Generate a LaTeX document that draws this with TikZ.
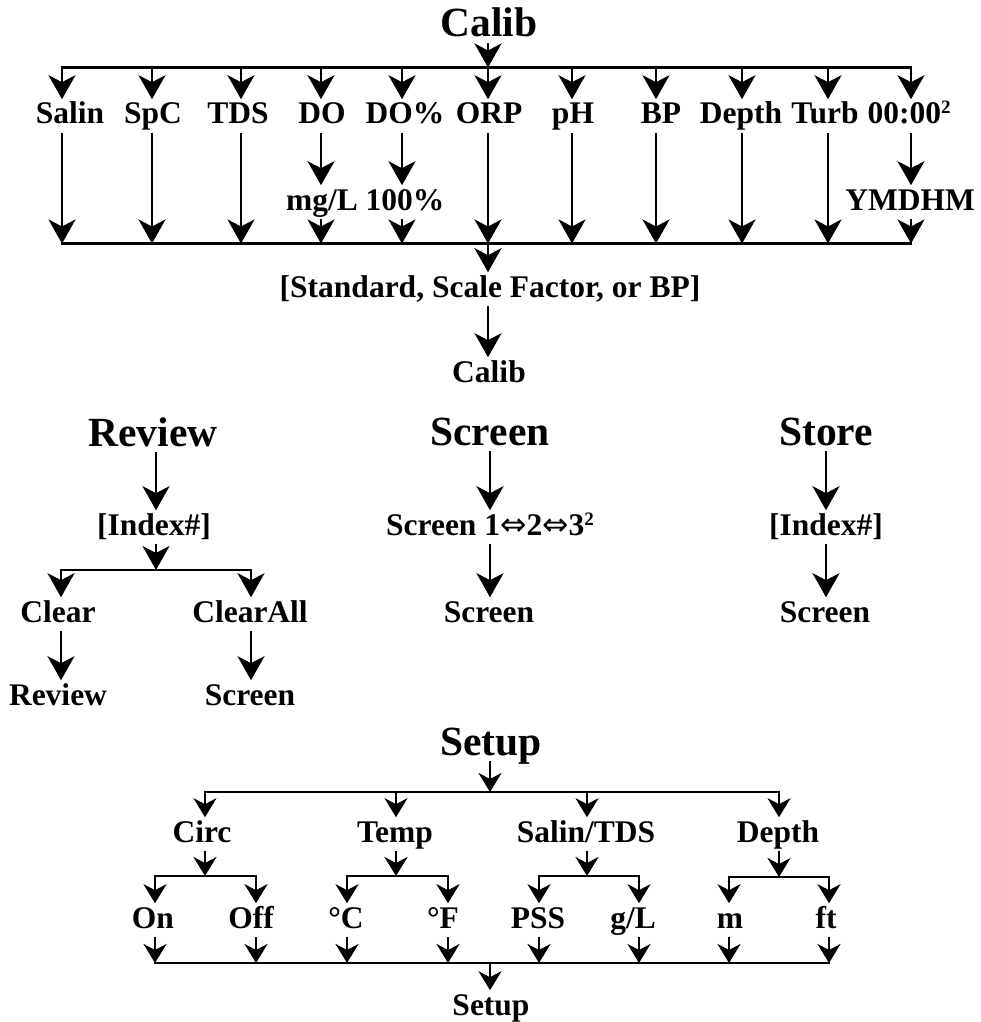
\documentclass[tikz,border=0pt]{standalone}
\usepackage{fontspec}
\setmainfont{Liberation Serif}
\newfontfamily\arrowfont{DejaVu Sans}
\usetikzlibrary{arrows.meta}
\newcommand{\dbl}{{\arrowfont\mdseries ⇔}}
\newcommand{\supertwo}{\raisebox{10pt}{\fontsize{19}{19}\selectfont 2}}
\tikzset{
  bigtip/.tip={Stealth[length=24pt 0 0,width=27pt 0 0,inset=7pt 0 0]},
  smalltip/.tip={Stealth[length=19pt 0 0,width=23pt 0 0,inset=6pt 0 0]}
}
\begin{document}
\begin{tikzpicture}[x=1pt,y=-1pt,line width=2.6pt,
  ttl/.style={font=\bfseries\fontsize{41.5}{44}\selectfont,anchor=base,inner sep=1pt,text height=29pt,text depth=4pt},
  lbl/.style={font=\bfseries\fontsize{31.5}{34}\selectfont,anchor=base,inner sep=1.5pt,text height=22pt,text depth=6pt},
  bus/.style={line cap=rect},
  arr/.style={-bigtip},
  sarr/.style={-smalltip}]
  \useasboundingbox (0,0) rectangle (981,1022);

  % Calib
  \node[ttl] (calib) at (489,37) {Calib};
  \coordinate (t1) at (62,67.5);
  \coordinate (t2) at (152,67.5);
  \coordinate (t3) at (241,67.5);
  \coordinate (t4) at (321,67.5);
  \coordinate (t5) at (402,67.5);
  \coordinate (t6) at (488,67.5);
  \coordinate (t7) at (572,67.5);
  \coordinate (t8) at (656,67.5);
  \coordinate (t9) at (742,67.5);
  \coordinate (t10) at (828,67.5);
  \coordinate (t11) at (911,67.5);
  \draw[bus] (t1) -- (t11);
  \draw[arr] (calib.south -| t6) -- (t6);

  \node[lbl] (salin) at (70,124) {Salin};
  \node[lbl] (spc) at (153,124) {SpC};
  \node[lbl] (tds) at (238,124) {TDS};
  \node[lbl] (do) at (322,124) {DO};
  \node[lbl] (dopc) at (405,124) {DO\%};
  \node[lbl] (orp) at (489,124) {ORP};
  \node[lbl] (ph) at (573,124) {pH};
  \node[lbl] (bp) at (661,124) {BP};
  \node[lbl] (depth) at (741,124) {Depth};
  \node[lbl] (turb) at (825,124) {Turb};
  \node[lbl] (clock) at (909,124) {00:00\supertwo};
  \node[lbl] (mgl) at (322,210) {mg/L};
  \node[lbl] (full) at (405,210) {100\%};
  \node[lbl] (ymdhm) at (910,210) {YMDHM};

  \draw[arr] (t1) -- (t1 |- salin.north);
  \draw[arr] (t2) -- (t2 |- spc.north);
  \draw[arr] (t3) -- (t3 |- tds.north);
  \draw[arr] (t4) -- (t4 |- do.north);
  \draw[arr] (t5) -- (t5 |- dopc.north);
  \draw[arr] (t6) -- (t6 |- orp.north);
  \draw[arr] (t7) -- (t7 |- ph.north);
  \draw[arr] (t8) -- (t8 |- bp.north);
  \draw[arr] (t9) -- (t9 |- depth.north);
  \draw[arr] (t10) -- (t10 |- turb.north);
  \draw[arr] (t11) -- (t11 |- clock.north);

  \coordinate (b1) at (62,243.5);
  \coordinate (b2) at (152,243.5);
  \coordinate (b3) at (241,243.5);
  \coordinate (b4) at (321,243.5);
  \coordinate (b5) at (402,243.5);
  \coordinate (b6) at (488,243.5);
  \coordinate (b7) at (572,243.5);
  \coordinate (b8) at (656,243.5);
  \coordinate (b9) at (742,243.5);
  \coordinate (b10) at (828,243.5);
  \coordinate (b11) at (911,243.5);
  \draw[bus] (b1) -- (b11);
  \draw[arr] (salin.south -| b1) -- (b1);
  \draw[arr] (spc.south -| b2) -- (b2);
  \draw[arr] (tds.south -| b3) -- (b3);
  \draw[arr] (do.south -| b4) -- (b4 |- mgl.north);
  \draw[arr] (mgl.south -| b4) -- (b4);
  \draw[arr] (dopc.south -| b5) -- (b5 |- full.north);
  \draw[arr] (full.south -| b5) -- (b5);
  \draw[arr] (orp.south -| b6) -- (b6);
  \draw[arr] (ph.south -| b7) -- (b7);
  \draw[arr] (bp.south -| b8) -- (b8);
  \draw[arr] (depth.south -| b9) -- (b9);
  \draw[arr] (turb.south -| b10) -- (b10);
  \draw[arr] (clock.south -| b11) -- (b11 |- ymdhm.north);
  \draw[arr] (ymdhm.south -| b11) -- (b11);

  \node[lbl] (std) at (490,297) {[Standard, Scale Factor, or BP]};
  \node[lbl] (calibend) at (489,382) {Calib};
  \draw[arr] (b6) -- (b6 |- std.north);
  \draw[arr] (std.south -| b6) -- (b6 |- calibend.north);

  % Review
  \node[ttl] (review) at (153,446) {Review};
  \node[lbl] (rindex) at (154,535) {[Index\#]};
  \coordinate (rc) at (156,570);
  \coordinate (rl) at (61,570);
  \coordinate (rr) at (251,570);
  \draw[arr] (review.south -| rc) -- (rc |- rindex.north);
  \draw[arr] (rindex.south -| rc) -- (rc);
  \draw[bus] (rl) -- (rr);
  \node[lbl] (clear) at (58,622) {Clear};
  \node[lbl] (clearall) at (250,622) {ClearAll};
  \draw[arr] (rl) -- (rl |- clear.north);
  \draw[arr] (rr) -- (rr |- clearall.north);
  \node[lbl] (rback) at (58,705) {Review};
  \node[lbl] (rscreen) at (250,705) {Screen};
  \draw[arr] (clear.south -| rl) -- (rl |- rback.north);
  \draw[arr] (clearall.south -| rr) -- (rr |- rscreen.north);

  % Screen
  \node[ttl] (screen) at (490,445) {Screen};
  \node[lbl] (cycle) at (490,535) {Screen 1\dbl2\dbl3\supertwo};
  \node[lbl] (sback) at (489,622) {Screen};
  \draw[arr] (screen.south) -- (screen.south |- cycle.north);
  \draw[arr] (cycle.south -| screen.south) -- (screen.south |- sback.north);

  % Store
  \node[ttl] (store) at (826,445) {Store};
  \node[lbl] (sindex) at (826,535) {[Index\#]};
  \node[lbl] (stscreen) at (825,622) {Screen};
  \draw[arr] (store.south) -- (store.south |- sindex.north);
  \draw[arr] (sindex.south -| store.south) -- (store.south |- stscreen.north);

  % Setup
  \node[ttl] (setup) at (491,755) {Setup};
  \coordinate (sc) at (490,792);
  \coordinate (s1) at (205,792);
  \coordinate (s2) at (396,792);
  \coordinate (s3) at (587,792);
  \coordinate (s4) at (779,792);
  \draw[bus] (s1) -- (s4);
  \draw[sarr] (setup.south -| sc) -- (sc);

  \node[lbl] (circ) at (202,842) {Circ};
  \node[lbl] (temp) at (395,842) {Temp};
  \node[lbl] (salt) at (586,842) {Salin/TDS};
  \node[lbl] (dep) at (778,842) {Depth};
  \draw[sarr] (s1) -- (s1 |- circ.north);
  \draw[sarr] (s2) -- (s2 |- temp.north);
  \draw[sarr] (s3) -- (s3 |- salt.north);
  \draw[sarr] (s4) -- (s4 |- dep.north);

  \coordinate (ca) at (155,876);
  \coordinate (cb) at (256,876);
  \coordinate (ta) at (347,876);
  \coordinate (tb) at (448,876);
  \coordinate (pa) at (539,876);
  \coordinate (pb) at (639,876);
  \coordinate (ma) at (729,877);
  \coordinate (mb) at (829,877);
  \draw[sarr] (circ.south -| s1) -- (s1 |- ca);
  \draw[sarr] (temp.south -| s2) -- (s2 |- ta);
  \draw[sarr] (salt.south -| s3) -- (s3 |- pa);
  \draw[sarr] (dep.south -| s4) -- (s4 |- ma);
  \draw[bus] (ca) -- (cb);
  \draw[bus] (ta) -- (tb);
  \draw[bus] (pa) -- (pb);
  \draw[bus] (ma) -- (mb);

  \node[lbl] (on) at (153,928) {On};
  \node[lbl] (off) at (251,928) {Off};
  \node[lbl] (degc) at (346,928) {°C};
  \node[lbl] (degf) at (443,928) {°F};
  \node[lbl] (pss) at (538,928) {PSS};
  \node[lbl] (gpl) at (633,928) {g/L};
  \node[lbl] (met) at (730,928) {m};
  \node[lbl] (feet) at (826,928) {ft};
  \draw[sarr] (ca) -- (ca |- on.north);
  \draw[sarr] (cb) -- (cb |- off.north);
  \draw[sarr] (ta) -- (ta |- degc.north);
  \draw[sarr] (tb) -- (tb |- degf.north);
  \draw[sarr] (pa) -- (pa |- pss.north);
  \draw[sarr] (pb) -- (pb |- gpl.north);
  \draw[sarr] (ma) -- (ma |- met.north);
  \draw[sarr] (mb) -- (mb |- feet.north);

  \coordinate (bot) at (490,963);
  \draw[bus] (ca |- bot) -- (mb |- bot);
  \draw[sarr] (on.south -| ca) -- (ca |- bot);
  \draw[sarr] (off.south -| cb) -- (cb |- bot);
  \draw[sarr] (degc.south -| ta) -- (ta |- bot);
  \draw[sarr] (degf.south -| tb) -- (tb |- bot);
  \draw[sarr] (pss.south -| pa) -- (pa |- bot);
  \draw[sarr] (gpl.south -| pb) -- (pb |- bot);
  \draw[sarr] (met.south -| ma) -- (ma |- bot);
  \draw[sarr] (feet.south -| mb) -- (mb |- bot);
  \node[lbl] (setupend) at (491,1015) {Setup};
  \draw[sarr] (bot) -- (bot |- setupend.north);
\end{tikzpicture}
\end{document}
